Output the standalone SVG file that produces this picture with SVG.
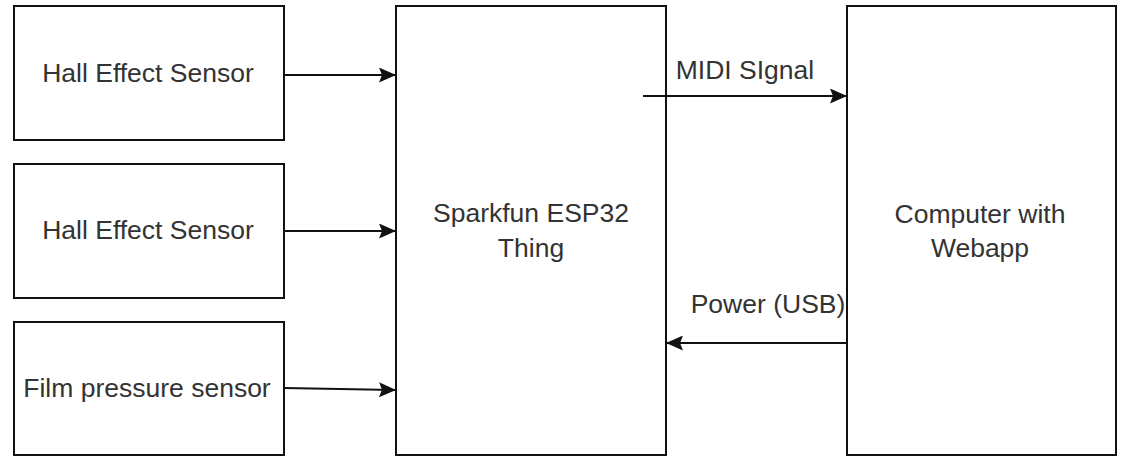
<svg xmlns="http://www.w3.org/2000/svg" width="1121" height="457" viewBox="0 0 1121 457">
<style>
.box{fill:#ffffff;stroke:#111111;stroke-width:2}
.lbl{font-family:"Liberation Sans",Arial,sans-serif;font-size:26.5px;fill:#333333;text-anchor:middle}
.edge{fill:none;stroke:#111111;stroke-width:2}
</style>
<defs>
<marker id="arr" markerWidth="17" markerHeight="15" refX="16" refY="7.5" orient="auto" markerUnits="userSpaceOnUse">
<path d="M0,0 L17,7.5 L0,15 L3,7.5 Z" fill="#111111"/>
</marker>
</defs>
<rect width="1121" height="457" fill="#ffffff"/>
<g id="hall1">
<rect class="box" x="14" y="6" width="270" height="134"/>
<text class="lbl" x="148" y="82">Hall Effect Sensor</text>
</g>
<g id="hall2">
<rect class="box" x="14" y="164" width="270" height="134"/>
<text class="lbl" x="148" y="239">Hall Effect Sensor</text>
</g>
<g id="film">
<rect class="box" x="14" y="322" width="270" height="133"/>
<text class="lbl" x="147" y="397">Film pressure sensor</text>
</g>
<g id="esp32">
<rect class="box" x="396" y="6" width="270" height="449"/>
<text class="lbl" x="531" y="222">Sparkfun ESP32</text>
<text class="lbl" x="531" y="257">Thing</text>
</g>
<g id="computer">
<rect class="box" x="847" y="6" width="269" height="449"/>
<text class="lbl" x="980" y="223">Computer with</text>
<text class="lbl" x="980" y="257">Webapp</text>
</g>
<g id="connectors">
<path class="edge" d="M284,75 L395,75" marker-end="url(#arr)"/>
<path class="edge" d="M284,231 L395,231" marker-end="url(#arr)"/>
<path class="edge" d="M284,388 L395,390" marker-end="url(#arr)"/>
<path class="edge" d="M643,96 L846,96" marker-end="url(#arr)"/>
<path class="edge" d="M847,343 L667,343" marker-end="url(#arr)"/>
<text class="lbl" x="745" y="79">MIDI SIgnal</text>
<text class="lbl" x="768" y="313">Power (USB)</text>
</g>
</svg>
